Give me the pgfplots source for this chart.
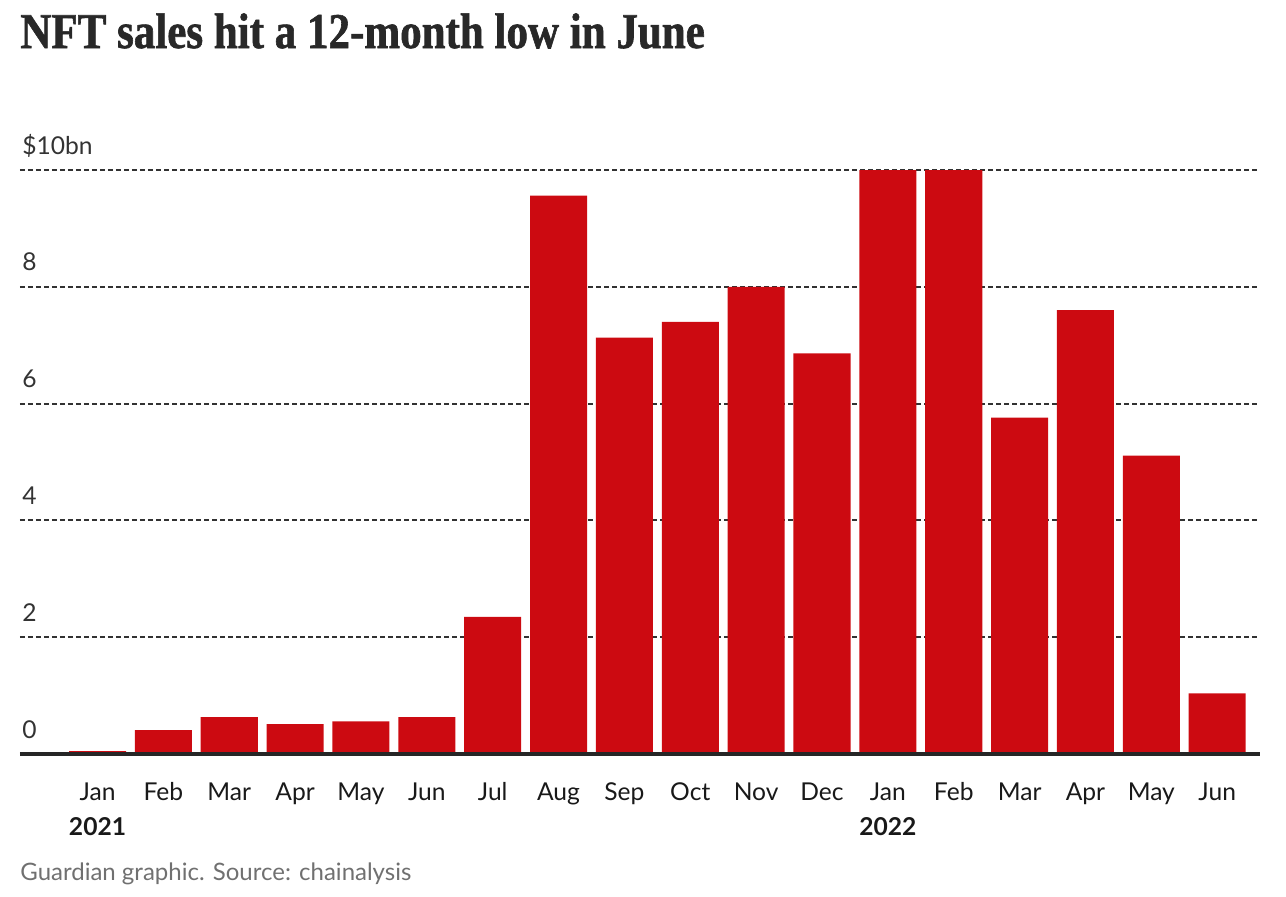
\documentclass[border=0pt]{standalone}
\usepackage{pgfplots}
\pgfplotsset{compat=1.18}
\usepackage{fontspec}
\setmainfont{Lato}
\newfontfamily\titlefont[FakeStretch=0.86,FakeBold=1.2]{Liberation Serif}
\definecolor{barred}{RGB}{204,10,17}
\definecolor{txt}{RGB}{51,51,51}
\definecolor{titc}{RGB}{40,40,40}
\definecolor{gridc}{RGB}{50,50,50}
\definecolor{srcgray}{RGB}{112,112,112}
\begin{document}
\begin{tikzpicture}[x=1pt,y=1pt]
\useasboundingbox (0,0) rectangle (643,-448);
\node[anchor=base west, inner sep=0pt, text=titc] at (10,-24) {\titlefont\bfseries\fontsize{25}{30}\selectfont NFT sales hit a 12-month low in June};
\begin{axis}[
  at={(10pt,-377pt)}, anchor=south west,
  width=620pt, height=292pt, scale only axis,
  xmin=-1.177, xmax=17.65, ymin=0, ymax=10,
  axis line style={draw=none},
  major tick length=0pt,
  ytick={0,2,4,6,8,10},
  yticklabels={0,2,4,6,8,\$10bn},
  xtick={0,1,...,17},
  xticklabels={Jan,Feb,Mar,Apr,May,Jun,Jul,Aug,Sep,Oct,Nov,Dec,Jan,Feb,Mar,Apr,May,Jun},
  ymajorgrids,
  grid style={gridc, line width=1pt, dash pattern=on 2.5pt off 1.5pt},
  yticklabel style={anchor=base west, inner sep=0pt, xshift=1pt, yshift=8pt, font=\fontsize{12.3}{14}\selectfont, text=txt},
  xticklabel style={anchor=base, inner sep=0pt, yshift=-23pt, font=\fontsize{12.3}{14}\selectfont, text=black!90},
  clip=false,
]
\addplot[ybar, bar width=0.866, fill=barred, draw=none] coordinates {
(0,0.05) (1,0.41) (2,0.63) (3,0.51) (4,0.56) (5,0.63) (6,2.35) (7,9.56) (8,7.13)
(9,7.40) (10,8.0) (11,6.86) (12,10.0) (13,10.0) (14,5.76) (15,7.60) (16,5.11) (17,1.04)
};
\draw[line width=2pt, color=black!85] (rel axis cs:0,0) -- (rel axis cs:1,0);
\node[anchor=base, inner sep=0pt, font=\bfseries\fontsize{12.3}{14}\selectfont, text=black!90, yshift=-40.5pt] at (axis cs:0,0) {2021};
\node[anchor=base, inner sep=0pt, font=\bfseries\fontsize{12.3}{14}\selectfont, text=black!90, yshift=-40.5pt] at (axis cs:12,0) {2022};
\end{axis}
\node[anchor=base west, inner sep=0pt, text=srcgray, font=\fontsize{12}{14}\selectfont] at (10,-440) {Guardian graphic. Source: chainalysis};
\end{tikzpicture}
\end{document}
